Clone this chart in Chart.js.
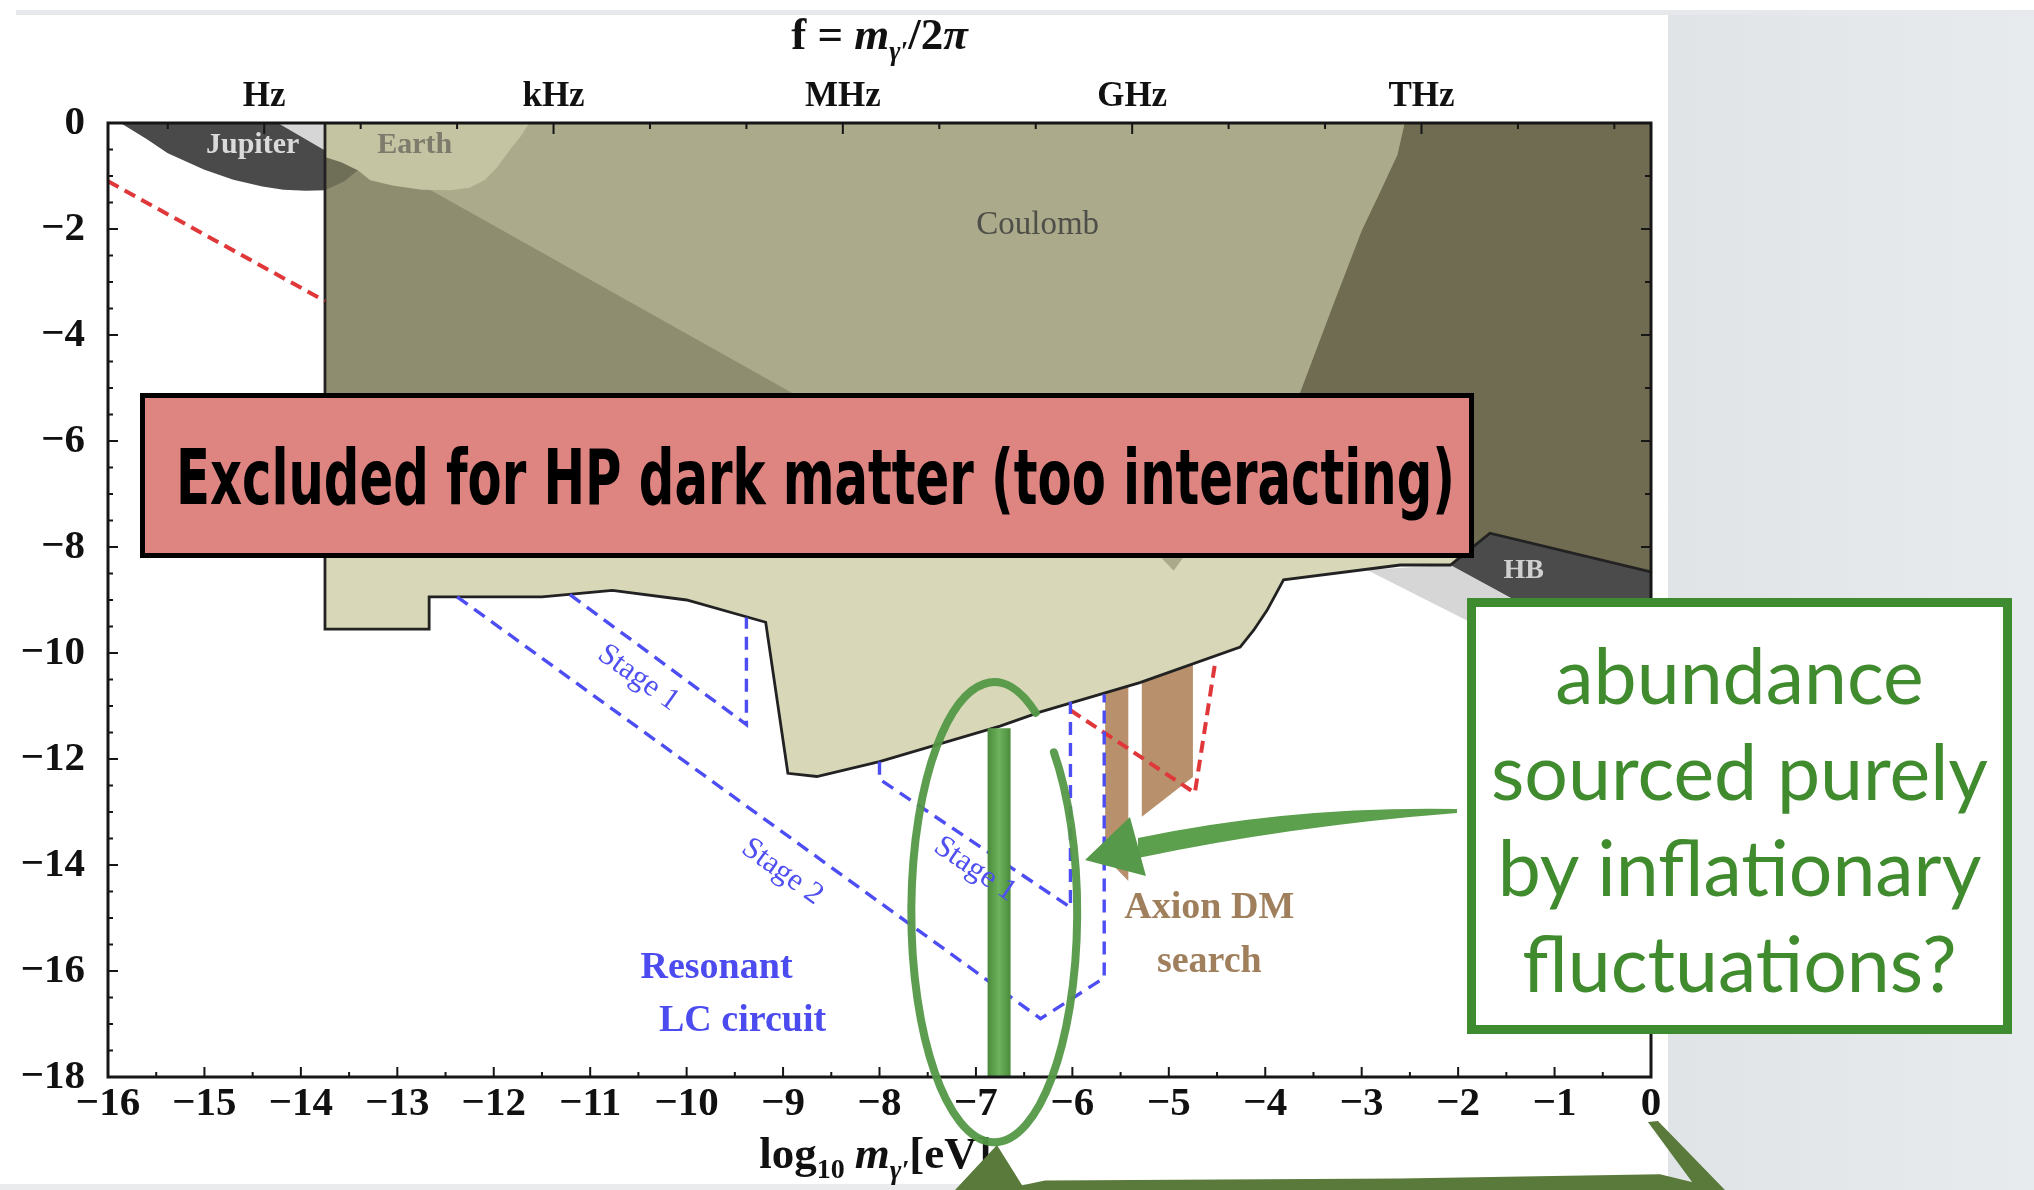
<!DOCTYPE html>
<html>
<head>
<meta charset="utf-8">
<script src="https://cdn.jsdelivr.net/npm/chart.js@4.4.1/dist/chart.umd.min.js"></script>
<style>
  html, body { margin: 0; padding: 0; background: #fff; width: 2034px; height: 1190px; overflow: hidden; }
  body { position: relative; }
  #topStrip { position: absolute; left: 16px; top: 10px; width: 2018px; height: 5px; background: #e6e8eb; }
  #panel { position: absolute; left: 1668px; top: 15px; width: 366px; height: 1175px; background: linear-gradient(90deg, #e0e4e7, #e8ebee); }
  #botStrip { position: absolute; left: 0; top: 1184px; width: 1668px; height: 6px; background: #e9ebed; }
  #wrap { position: absolute; left: 0; top: 0; width: 2034px; height: 1190px; }
  #hpBox { position: absolute; left: 140px; top: 393px; width: 1334px; height: 165px; box-sizing: border-box;
           border: 5px solid #000; background: #de8582; overflow: hidden; }
  #hpText { position: absolute; left: 0; top: 0; font-family: "DejaVu Sans", sans-serif; font-stretch: condensed;
            font-weight: bold; font-size: 77px; line-height: 155px; color: #000; white-space: nowrap;
            transform-origin: 0 0; }
  #infBox { position: absolute; left: 1467px; top: 598px; width: 545px; height: 436px; box-sizing: border-box;
            border: 9px solid #3f8b2f; background: #fff; }
  #infBox div { position: absolute; left: 0; width: 100%; text-align: center; font-family: Lato, "Open Sans", sans-serif;
                font-size: 77px; line-height: 96px; height: 96px; color: #3f8b2d; white-space: nowrap; }
</style>
</head>
<body>
<div id="topStrip"></div>
<div id="panel"></div>
<div id="botStrip"></div>
<div id="wrap"><canvas id="c" width="2034" height="1190"></canvas></div>
<div id="hpBox"><span id="hpText">Excluded for HP dark matter (too interacting)</span></div>
<div id="infBox">
  <div style="top:19px">abundance</div>
  <div style="top:115px">sourced purely</div>
  <div style="top:211px">by inflationary</div>
  <div style="top:307px">fluctuations?</div>
</div>
<script>
// ---- axes ----
const massTicks = [-16, -15, -14, -13, -12, -11, -10, -9, -8, -7, -6, -5, -4, -3, -2, -1, 0];
const couplingTicks = [0, -2, -4, -6, -8, -10, -12, -14, -16, -18];
const freqUnitNames = ['Hz', 'kHz', 'MHz', 'GHz', 'THz'];
const freqUnitMass = [-14.38, -11.38, -8.38, -5.38, -2.38];
const freqMinorMass = [-15.38, -14.38, -13.38, -12.38, -11.38, -10.38, -9.38, -8.38, -7.38, -6.38, -5.38, -4.38, -3.38, -2.38, -1.38, -0.38];

// ---- excluded regions: [log10 m, log10 chi] ----
const coulombRegion = [[-13.75,0],[0,0],[0,-8.47],[-1.67,-7.74],[-2.08,-8.34],[-2.60,-8.34],[-3.81,-8.62],[-3.98,-9.19],[-4.12,-9.57],[-4.26,-9.89],[-5.30,-10.56],[-6.33,-11.11],[-6.75,-11.38],[-8.0,-12.05],[-8.65,-12.33],[-8.95,-12.27],[-9.18,-9.42],[-10.0,-9.0],[-10.77,-8.82],[-11.5,-8.94],[-12.67,-8.94],[-12.67,-9.55],[-13.75,-9.55],[-13.75,0]];
const coulombBoundary = [[-13.75,0],[-13.75,-9.55],[-12.67,-9.55],[-12.67,-8.94],[-11.5,-8.94],[-10.77,-8.82],[-10.0,-9.0],[-9.18,-9.42],[-8.95,-12.27],[-8.65,-12.33],[-8.0,-12.05],[-6.75,-11.38],[-6.33,-11.11],[-5.30,-10.56],[-4.26,-9.89],[-4.12,-9.57],[-3.98,-9.19],[-3.81,-8.62],[-2.60,-8.34],[-2.08,-8.34],[-1.67,-7.74],[0,-8.47]];
const coulombMidRegion = [[-13.75,0],[-2.555,0],[-2.63,-0.6],[-2.81,-1.3],[-3.0,-2.03],[-3.30,-3.45],[-3.64,-5.09],[-3.95,-6.6],[-4.25,-8.2],[-4.85,-8.2],[-4.95,-8.45],[-5.08,-8.2],[-13.75,-8.2],[-13.75,0]];
const coulombDiagRegion = [[-13.75,-0.25],[-12.62,-1.3],[-8.91,-5.09],[-5.8,-8.2],[-13.75,-8.2],[-13.75,-0.25]];
const coulombDarkRegion = [[-2.555,0],[0,0],[0,-8.47],[-1.67,-7.74],[-1.9,-8.05],[-2.6,-8.2],[-4.25,-8.2],[-3.95,-6.6],[-3.64,-5.09],[-3.30,-3.45],[-3.0,-2.03],[-2.81,-1.3],[-2.63,-0.6],[-2.555,0]];
const jupiterRegion = [[-15.87,0],[-15.6,-0.3],[-15.38,-0.57],[-15.0,-0.88],[-14.70,-1.07],[-14.4,-1.2],[-14.18,-1.26],[-13.95,-1.28],[-13.75,-1.27],[-13.75,0],[-15.87,0]];
const jupiterEdgeRegion = [[-14.24,0],[-13.75,0],[-13.75,-0.52],[-14.24,0]];
const jupiterOverlap = [[-13.75,-0.64],[-13.58,-0.74],[-13.41,-0.89],[-13.55,-1.1],[-13.75,-1.27],[-13.75,-0.64]];
const earthRegion = [[-13.75,0],[-11.63,0],[-11.72,-0.25],[-11.83,-0.5],[-11.97,-0.85],[-12.09,-1.07],[-12.25,-1.22],[-12.45,-1.27],[-12.75,-1.26],[-13.05,-1.18],[-13.28,-1.08],[-13.41,-0.89],[-13.58,-0.74],[-13.75,-0.64],[-13.75,0]];
const hbRegion = [[-2.08,-8.34],[-1.67,-7.74],[0,-8.47],[0,-10.3],[-0.1,-10.3],[-2.08,-8.34]];
const hbShadowRegion = [[-2.95,-8.43],[-2.08,-8.34],[-0.5,-9.92],[-1.0,-10.22],[-2.95,-8.43]];

// ---- projected reach ----
const axionBarA = [[-5.66,-10.2],[-5.42,-10.2],[-5.42,-14.3],[-5.66,-13.85],[-5.66,-10.2]];
const axionBarB = [[-5.28,-9.9],[-4.75,-9.9],[-4.75,-12.34],[-5.28,-13.09],[-5.28,-9.9]];
const redLineLow = [[-16,-1.10],[-13.75,-3.36]];
const redLineAxion = [[-6.02,-11.08],[-4.73,-12.64],[-4.52,-10.19]];
const lcStage1A = [[-11.21,-8.9],[-9.38,-11.35],[-9.38,-9.33]];
const lcStage2 = [[-12.38,-8.94],[-6.33,-16.9],[-5.67,-16.13],[-5.67,-10.78]];
const lcStage1B = [[-8.0,-12.05],[-8.0,-12.38],[-6.02,-14.8],[-6.02,-10.92]];
const inflationMass = -6.76;
const inflationBand = [[inflationMass,-11.42],[inflationMass,-18]];

// ---- annotations (data coordinates) ----
const labelTexts = ['Jupiter', 'Earth', 'Coulomb', 'HB', 'Stage 1', 'Stage 2', 'Stage 1', 'Resonant', 'LC circuit', 'Axion DM', 'search'];
const labelMass  = [-14.50, -12.82, -6.36, -1.32, -10.50, -9.01, -7.01, -9.69, -9.42, -4.58, -4.58];
const labelChi   = [-0.415, -0.415, -1.94, -8.45, -10.47, -14.13, -14.08, -15.94, -16.94, -14.81, -15.83];
const ellipseCenter = [-6.81, -14.89];
const ellipseHalfAxes = [0.86, 4.34];
const arrowUpper = [[-2.012,-12.943],[-3.744,-12.887],[-5.320,-13.491]];
const arrowLower = [[-5.320,-13.868],[-3.744,-13.264],[-2.012,-13.019]];
const arrowHead = [[-5.869,-13.906],[-5.403,-13.094],[-5.237,-14.208]];
const braceLeft = [[-7.217,-20.132],[-6.782,-19.283],[-6.491,-20.132]];
const braceBottom = [[-6.751,-20.132],[-6.284,-19.955],[-2.603,-19.917],[0.093,-19.834],[0.508,-20.019],[0.508,-20.132]];
const braceRight = [[-0.032,-18.849],[0.072,-18.830],[0.767,-20.132],[0.487,-20.132]];

const SERIF = '"Liberation Serif", "DejaVu Serif", serif';
const pts = a => a.map(([x, y]) => ({ x, y }));
const minus = v => (v < 0 ? '\u2212' + Math.abs(v) : String(v));

function area(data, fill, extra) {
  return Object.assign({ data: pts(data), backgroundColor: fill, borderColor: 'rgba(0,0,0,0)', borderWidth: 0,
    fill: 'shape', pointRadius: 0, tension: 0, xAxisID: 'x', yAxisID: 'y' }, extra || {});
}
function path(data, color, width, dash) {
  return { data: pts(data), borderColor: color, borderWidth: width, borderDash: dash || [], fill: false,
    pointRadius: 0, tension: 0, borderJoinStyle: 'miter', borderCapStyle: 'butt', xAxisID: 'x', yAxisID: 'y' };
}
function bandColor(c) {
  const xs = c.chart && c.chart.scales && c.chart.scales.x;
  const px = xs ? xs.getPixelForValue(inflationMass) : NaN;
  if (!isFinite(px)) return '#5a9d48';
  const g = c.chart.ctx.createLinearGradient(px - 11, 0, px + 11, 0);
  g.addColorStop(0, '#4c8d3d'); g.addColorStop(0.5, '#6db25c'); g.addColorStop(1, '#4c8d3d');
  return g;
}

const layers = [
  area(axionBarA, '#b8916c'),
  area(axionBarB, '#b8916c'),
  area(hbShadowRegion, '#d6d6d6'),
  area(jupiterRegion, '#4a4a4a'),
  area(jupiterEdgeRegion, '#d6d6d6'),
  area(coulombRegion, '#d8d8b9'),
  area(coulombMidRegion, '#abaa8b'),
  area(coulombDiagRegion, '#8e8d6f'),
  area(coulombDarkRegion, '#706c51'),
  area(jupiterOverlap, '#6f6e56'),
  area(earthRegion, '#c4c3a2'),
  area(hbRegion, '#4b4b4b'),
  path(coulombBoundary, '#222', 2.8),
  path(redLineLow, '#e0383a', 4, [12, 7]),
  path(redLineAxion, '#e0383a', 4, [12, 7]),
  path(lcStage1A, '#4d4df4', 3.4, [13, 8]),
  path(lcStage2, '#4d4df4', 3.4, [13, 8]),
  path(lcStage1B, '#4d4df4', 3.4, [13, 8]),
  Object.assign(path(inflationBand, '#5a9d48', 23), { borderColor: bandColor })
];
// later layers paint on top
layers.forEach((d, i) => { d.order = -i; });

function richText(ctx, cx, baseline, parts) {
  let w = 0;
  parts.forEach(p => { ctx.font = p.font; w += ctx.measureText(p.t).width + (p.gap || 0); });
  let x = cx - w / 2;
  ctx.textAlign = 'left'; ctx.textBaseline = 'alphabetic';
  parts.forEach(p => { ctx.font = p.font; ctx.fillText(p.t, x, baseline + (p.dy || 0)); x += ctx.measureText(p.t).width + (p.gap || 0); });
}

const decor = {
  id: 'decor',
  afterDatasetsDraw(chart) {
    const { ctx, chartArea: a, scales } = chart;
    const X = v => scales.x.getPixelForValue(v), Y = v => scales.y.getPixelForValue(v);
    ctx.save();
    const styles = [
      ['bold 30px ' + SERIF, '#dadada', 0], ['bold 30px ' + SERIF, '#7c7b6c', 0], ['33px ' + SERIF, '#4f4f49', 0],
      ['bold 28px ' + SERIF, '#cfcfcf', 0], ['31px ' + SERIF, '#5050f2', 35.4], ['31px ' + SERIF, '#5050f2', 35.7],
      ['31px ' + SERIF, '#5050f2', 34], ['bold 38px ' + SERIF, '#4b4bef', 0], ['bold 38px ' + SERIF, '#4b4bef', 0],
      ['bold 38px ' + SERIF, '#9f7f5c', 0], ['bold 38px ' + SERIF, '#9f7f5c', 0]
    ];
    labelTexts.forEach((t, i) => {
      const [font, color, rot] = styles[i];
      ctx.save();
      ctx.translate(X(labelMass[i]), Y(labelChi[i]));
      ctx.rotate(rot * Math.PI / 180);
      ctx.font = font; ctx.fillStyle = color; ctx.textAlign = 'center'; ctx.textBaseline = 'middle';
      ctx.fillText(t, 0, 0);
      ctx.restore();
    });
    // frame
    ctx.strokeStyle = '#161616'; ctx.lineWidth = 3;
    ctx.strokeRect(a.left, a.top, a.right - a.left, a.bottom - a.top);
    // inward ticks
    ctx.lineWidth = 2;
    ctx.beginPath();
    for (let v = 0; v >= -18; v -= 0.5) {
      const len = (v % 2 === 0) ? 10 : 5;
      ctx.moveTo(a.left, Y(v)); ctx.lineTo(a.left + len, Y(v));
      if (Number.isInteger(v)) { ctx.moveTo(a.right, Y(v)); ctx.lineTo(a.right - (v % 2 === 0 ? 10 : 6), Y(v)); }
    }
    for (let v = -16; v <= 0; v += 0.5) {
      const len = Number.isInteger(v) ? 10 : 5;
      ctx.moveTo(X(v), a.bottom); ctx.lineTo(X(v), a.bottom - len);
    }
    freqMinorMass.forEach(v => {
      const len = freqUnitMass.includes(v) ? 11 : 6;
      ctx.moveTo(X(v), a.top); ctx.lineTo(X(v), a.top + len);
    });
    ctx.stroke();
    ctx.restore();
  },
  afterDraw(chart) {
    const { ctx, chartArea: a, scales } = chart;
    const X = v => scales.x.getPixelForValue(v), Y = v => scales.y.getPixelForValue(v);
    const cx = (a.left + a.right) / 2;
    ctx.save();
    ctx.fillStyle = '#111';
    richText(ctx, cx, 49, [
      { t: 'f = ', font: 'bold 45px ' + SERIF },
      { t: 'm', font: 'italic bold 45px ' + SERIF },
      { t: '\u03b3\u2032', font: 'italic bold 27px ' + SERIF, dy: 11 },
      { t: '/2', font: 'bold 45px ' + SERIF },
      { t: '\u03c0', font: 'italic bold 45px ' + SERIF }
    ]);
    richText(ctx, cx - 4, 1168, [
      { t: 'log', font: 'bold 45px ' + SERIF },
      { t: '10', font: 'bold 28px ' + SERIF, dy: 10, gap: 10 },
      { t: 'm', font: 'italic bold 45px ' + SERIF },
      { t: '\u03b3\u2032', font: 'italic bold 28px ' + SERIF, dy: 11 },
      { t: '[eV]', font: 'bold 45px ' + SERIF }
    ]);
    // highlighted ellipse
    ctx.strokeStyle = 'rgba(84,152,70,0.95)'; ctx.lineWidth = 8; ctx.lineCap = 'round';
    const ecx = X(ellipseCenter[0]), ecy = Y(ellipseCenter[1]);
    const erx = X(ellipseCenter[0] + ellipseHalfAxes[0]) - ecx, ery = Y(ellipseCenter[1] - ellipseHalfAxes[1]) - ecy;
    ctx.beginPath();
    ctx.ellipse(ecx, ecy, erx, ery, 0, -44 * Math.PI / 180, 300 * Math.PI / 180);
    ctx.stroke();
    // pointer arrow
    const P = p => [X(p[0]), Y(p[1])];
    ctx.fillStyle = '#5c9f4c';
    ctx.beginPath();
    let p0 = P(arrowUpper[0]), p1 = P(arrowUpper[1]), p2 = P(arrowUpper[2]);
    ctx.moveTo(p0[0], p0[1]); ctx.quadraticCurveTo(p1[0], p1[1], p2[0], p2[1]);
    p0 = P(arrowLower[0]); p1 = P(arrowLower[1]); p2 = P(arrowLower[2]);
    ctx.lineTo(p0[0], p0[1]); ctx.quadraticCurveTo(p1[0], p1[1], p2[0], p2[1]);
    ctx.closePath(); ctx.fill();
    ctx.fillStyle = '#56994a';
    ctx.beginPath();
    arrowHead.forEach((p, i) => { const q = P(p); i ? ctx.lineTo(q[0], q[1]) : ctx.moveTo(q[0], q[1]); });
    ctx.closePath(); ctx.fill();
    // brace strokes below the axis
    ctx.fillStyle = '#5a7a3b';
    [braceLeft, braceBottom, braceRight].forEach(shape => {
      ctx.beginPath();
      shape.forEach((p, i) => { const q = P(p); i ? ctx.lineTo(q[0], q[1]) : ctx.moveTo(q[0], q[1]); });
      ctx.closePath(); ctx.fill();
    });
    ctx.restore();
  }
};

const tickFont = { family: SERIF, size: 41, weight: 'bold' };
new Chart(document.getElementById('c'), {
  type: 'line',
  data: { datasets: layers },
  options: {
    responsive: false, animation: false, devicePixelRatio: 1,
    layout: { padding: { left: 0, right: 383, top: 0, bottom: 0 } },
    plugins: { legend: { display: false }, tooltip: { enabled: false }, title: { display: false } },
    scales: {
      x: {
        type: 'linear', position: 'bottom', min: -16, max: 0,
        afterBuildTicks: s => { s.ticks = massTicks.map(v => ({ value: v })); },
        afterFit: s => { s.height = 113; },
        grid: { display: false, drawTicks: false }, border: { display: false },
        ticks: { callback: v => minus(v), font: tickFont, color: '#111', padding: 3, maxRotation: 0, autoSkip: false }
      },
      x2: {
        type: 'linear', position: 'top', min: -16, max: 0,
        afterBuildTicks: s => { s.ticks = freqUnitMass.map(v => ({ value: v })); },
        afterFit: s => { s.height = 123; },
        grid: { display: false, drawTicks: false }, border: { display: false },
        ticks: { callback: (v, i) => freqUnitNames[i], font: { family: SERIF, size: 35, weight: 'bold' }, color: '#111', padding: 5, maxRotation: 0, autoSkip: false }
      },
      y: {
        type: 'linear', position: 'left', min: -18, max: 0,
        afterBuildTicks: s => { s.ticks = couplingTicks.map(v => ({ value: v })); },
        afterFit: s => { s.width = 108; },
        grid: { display: false, drawTicks: false }, border: { display: false },
        ticks: { callback: v => minus(v), font: tickFont, color: '#111', padding: 23, autoSkip: false }
      }
    }
  },
  plugins: [decor]
});

// fit the banner text inside its box
const hp = document.getElementById('hpText');
const w = hp.getBoundingClientRect().width;
if (w > 0) hp.style.transform = 'translate(31px, 2px) scaleX(' + (1279 / w).toFixed(4) + ')';
</script>
</body>
</html>
